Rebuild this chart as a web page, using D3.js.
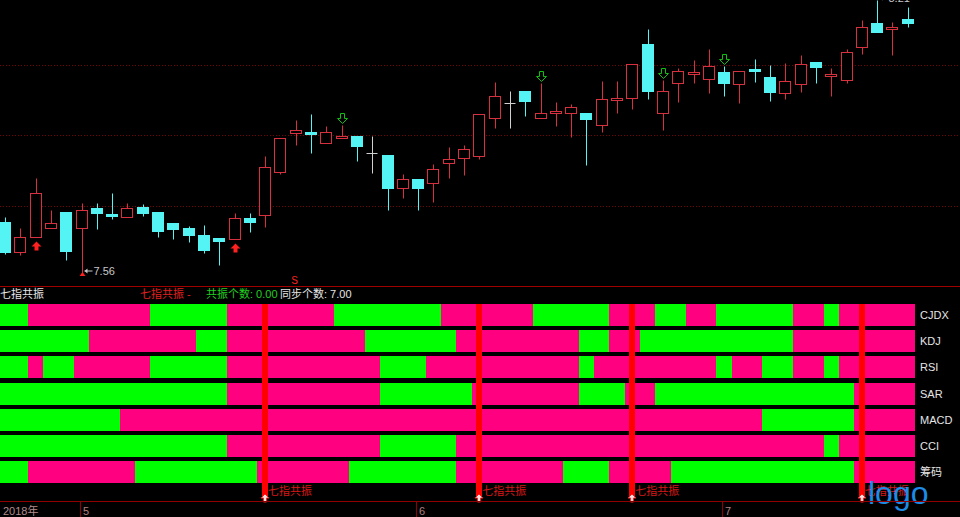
<!DOCTYPE html>
<html>
<head>
<meta charset="utf-8">
<script src="https://cdn.jsdelivr.net/npm/d3@7"></script>
<style>
body { margin: 0; background: #000; overflow: hidden; }
text { font-family: "Liberation Sans", "Noto Sans CJK SC", sans-serif; }
</style>
</head>
<body>
<div id="svg"></div>
<script>
var w = 960;
var h = 517;

// daily OHLC, 60 sessions
var open = [7.681,7.610,7.646,7.667,7.705,7.667,7.715,7.700,7.693,7.717,
  7.705,7.679,7.667,7.650,7.643,7.641,7.691,7.698,7.800,7.893,
  7.896,7.870,7.881,7.886,7.846,7.841,7.762,7.784,7.774,7.822,
  7.834,7.839,7.929,7.965,7.993,7.929,7.941,7.941,7.941,7.912,
  7.972,7.977,8.105,7.941,8.012,8.034,8.022,8.039,8.010,8.046,
  8.027,7.989,8.010,8.062,8.029,8.019,8.098,8.155,8.141,8.165];
var high = [7.693,7.667,7.786,7.710,7.705,7.727,7.727,7.750,7.727,7.724,
  7.705,7.679,7.672,7.674,7.643,7.703,7.703,7.839,7.881,7.924,
  7.939,7.910,7.912,7.886,7.886,7.841,7.796,7.784,7.820,7.860,
  7.865,7.939,8.015,7.993,7.993,8.012,7.967,7.962,7.941,8.017,
  8.017,8.058,8.141,8.019,8.048,8.067,8.093,8.053,8.041,8.070,
  8.055,8.060,8.079,8.062,8.048,8.093,8.162,8.210,8.158,8.193];
var low = [7.605,7.603,7.646,7.667,7.591,7.560,7.665,7.689,7.693,7.696,
  7.646,7.641,7.634,7.608,7.579,7.641,7.658,7.670,7.796,7.865,
  7.846,7.870,7.881,7.827,7.798,7.710,7.739,7.710,7.729,7.786,
  7.793,7.831,7.905,7.905,7.934,7.929,7.910,7.884,7.817,7.896,
  7.941,7.950,7.974,7.900,7.967,8.012,7.989,7.981,7.965,8.015,
  7.970,7.974,7.991,8.012,7.981,8.012,8.081,8.134,8.079,8.146];
var close = [7.610,7.646,7.750,7.679,7.612,7.710,7.703,7.696,7.715,7.703,
  7.660,7.665,7.650,7.615,7.636,7.691,7.681,7.812,7.881,7.900,
  7.891,7.896,7.886,7.862,7.846,7.762,7.784,7.762,7.808,7.831,
  7.855,7.939,7.981,7.965,7.970,7.941,7.946,7.955,7.927,7.974,
  7.977,8.058,7.993,7.993,8.041,8.039,8.053,8.012,8.041,8.041,
  7.991,8.017,8.058,8.050,8.034,8.086,8.146,8.134,8.146,8.155];

var gridPrices = [8.055, 7.888, 7.719];
var buyIdx = [2, 15];
var sellIdx = [22, 35, 43, 47];
var sMarkIdx = 19;

var monthIdx = [5, 27, 47];
var monthLabels = ['5', '6', '7'];
var yearLabel = '2018年';

// indicator states per session: 1 = pink, 0 = green
var rows = ['CJDX', 'KDJ', 'RSI', 'SAR', 'MACD', 'CCI', '筹码'];
var cjdx   = '00 11111111 00000 1111111 0000000 111111 00000 111 00 11 00000 11 0 11111';
var kdj    = '000000 1111111 00 111111111 000000 11111111 00 11 0000000000 11111111';
var rsi    = '00 1 00 11111 00000 1111111111 000 1111111111 0 11111111 0 11 00 11 0 11111';
var sar    = '000000000000000 1111111111 000000 1111111 000 11 0000000000000 1111';
var macd   = '00000000 111111111111111111111111111111111111111111 000000 1111';
var cci    = '000000000000000 1111111111 00000 111111111111111111111111 0 11111';
var chouma = '00 1111111 00000000 111111 0000000 1111111 000 1111 000000000000 1111';

var headTitle = '七指共振';
var headSignal = '七指共振 -';
var headCount = '共振个数: 0.00';
var headSync = '同步个数: 7.00';
var signalLabel = '七指共振';

var states = [cjdx, kdj, rsi, sar, macd, cci, chouma].map(s => s.replace(/ /g, '').split('').map(Number));
var n = open.length;

var upColor = '#d8303e', downColor = '#54f4f4', flatColor = '#d0d0d0';
var pink = '#ff0080', green = '#00ff00';

const svg = d3.select('#svg')
  .append('svg')
  .attr('width', w)
  .attr('height', h)
  .style('display', 'block')
  .style('background', '#000');

var x = d3.scaleBand().domain(d3.range(n)).range([-2.65, 915.35]);
var cx = i => x(i) + x.bandwidth() / 2;
var px = i => Math.round(cx(i)) + 0.5;
var y = d3.scaleLinear().domain([7.56, 8.21]).range([273, 0]);
var sy = v => Math.round(y(v)) + 0.5;

// price grid
svg.selectAll('.grid')
  .data(gridPrices)
  .enter().append('line')
  .attr('x1', 0).attr('x2', w)
  .attr('y1', sy).attr('y2', sy)
  .attr('stroke', '#7a0000')
  .attr('stroke-dasharray', '1,2');

var col = i => close[i] > open[i] ? upColor : (close[i] < open[i] ? downColor : flatColor);

var candles = svg.append('g').attr('class', 'candles');
candles.selectAll('line')
  .data(d3.range(n))
  .enter().append('line')
  .attr('x1', px).attr('x2', px)
  .attr('y1', i => sy(high[i])).attr('y2', i => sy(low[i]))
  .attr('stroke', col);

candles.selectAll('rect')
  .data(d3.range(n).filter(i => close[i] !== open[i]))
  .enter().append('rect')
  .attr('x', i => px(i) - 6)
  .attr('width', 11)
  .attr('y', i => sy(Math.max(open[i], close[i])))
  .attr('height', i => Math.max(1, sy(Math.min(open[i], close[i])) - sy(Math.max(open[i], close[i]))))
  .attr('fill', i => close[i] > open[i] ? '#000' : downColor)
  .attr('stroke', col);

candles.selectAll('.flat')
  .data(d3.range(n).filter(i => close[i] === open[i]))
  .enter().append('line')
  .attr('class', 'flat')
  .attr('x1', i => px(i) - 6).attr('x2', i => px(i) + 5)
  .attr('y1', i => sy(open[i])).attr('y2', i => sy(open[i]))
  .attr('stroke', flatColor);

// buy / sell arrows
svg.selectAll('.buy')
  .data(buyIdx)
  .enter().append('path')
  .attr('d', 'M0,0L5,5L2,5L2,9L-2,9L-2,5L-5,5Z')
  .attr('transform', i => `translate(${px(i)},${sy(low[i]) + 4})`)
  .attr('fill', '#ff2020');

svg.selectAll('.sell')
  .data(sellIdx)
  .enter().append('path')
  .attr('d', 'M-2,0L2,0L2,5L5,5L0,10L-5,5L-2,5Z')
  .attr('transform', i => `translate(${px(i)},${sy(high[i]) - 12})`)
  .attr('fill', 'none')
  .attr('stroke', '#10c010');

// extreme labels
var iLow = d3.minIndex(low), iHigh = d3.maxIndex(high);
[[iLow, low[iLow]], [iHigh, high[iHigh]]].forEach(function (d) {
  var yy = y(d[1]) - 2;
  svg.append('line')
    .attr('x1', px(d[0]) + 2).attr('x2', px(d[0]) + 10)
    .attr('y1', yy).attr('y2', yy)
    .attr('stroke', '#c8c8c8');
  svg.append('path')
    .attr('d', `M${px(d[0]) + 2},${yy}l3,-2.5v5z`)
    .attr('fill', '#c8c8c8');
  svg.append('text')
    .attr('x', px(d[0]) + 11).attr('y', yy)
    .attr('dy', '0.36em')
    .attr('font-size', 11)
    .attr('fill', '#c8c8c8')
    .text(d3.format('.2f')(d[1]));
});
svg.append('path')
  .attr('d', 'M-3,3L0,-1L3,3Z')
  .attr('transform', `translate(${px(iLow)},${y(low[iLow])})`)
  .attr('fill', '#ff2020');

svg.append('text')
  .attr('x', cx(sMarkIdx) - 1).attr('y', 284)
  .attr('text-anchor', 'middle')
  .attr('font-size', 10)
  .attr('fill', '#ff2020')
  .text('S');

// panel separator
svg.append('line')
  .attr('x1', 0).attr('x2', w)
  .attr('y1', 286.5).attr('y2', 286.5)
  .attr('stroke', '#a00000');

// header
svg.append('text').attr('x', 0).attr('y', 298).attr('font-size', 11).attr('fill', '#e6e6e6').text(headTitle);
svg.append('text').attr('x', 140).attr('y', 298).attr('font-size', 11).attr('fill', '#e02020').text(headSignal);
svg.append('text').attr('x', 206).attr('y', 298).attr('font-size', 11).attr('fill', '#20d020').text(headCount);
svg.append('text').attr('x', 280).attr('y', 298).attr('font-size', 11).attr('fill', '#e6e6e6').text(headSync);

// indicator bars
var ry = d3.scaleBand().domain(rows).range([304, 483.2]).paddingInner(0.16);

rows.forEach(function (r, k) {
  var s = states[k], runs = [], start = 0;
  for (var i = 1; i <= n; i++) {
    if (i === n || s[i] !== s[start]) {
      runs.push({ a: start, b: i - 1, v: s[start] });
      start = i;
    }
  }
  svg.append('g').selectAll('rect')
    .data(runs)
    .enter().append('rect')
    .attr('x', d => Math.max(0, Math.round(x(d.a))))
    .attr('width', d => Math.round(x(d.b) + x.bandwidth()) - Math.max(0, Math.round(x(d.a))))
    .attr('y', ry(r))
    .attr('height', ry.bandwidth())
    .attr('fill', d => d.v ? pink : green)
    .attr('shape-rendering', 'crispEdges');

  svg.append('text')
    .attr('x', 920)
    .attr('y', ry(r) + ry.bandwidth() / 2)
    .attr('dy', '0.36em')
    .attr('font-size', 11)
    .attr('fill', '#e6e6e6')
    .text(r);
});

// resonance signals: first session with all indicators pink
var allPink = d3.range(n).map(i => states.every(s => s[i] === 1));
var signals = d3.range(n).filter(i => allPink[i] && (i === 0 || !allPink[i - 1]));

svg.selectAll('.sig')
  .data(signals)
  .enter().append('rect')
  .attr('x', i => Math.round(cx(i)) - 3)
  .attr('width', 6)
  .attr('y', 304)
  .attr('height', 193)
  .attr('fill', '#ff0000');

svg.selectAll('.siglabel')
  .data(signals)
  .enter().append('text')
  .attr('x', i => cx(i) + 3)
  .attr('y', 495)
  .attr('font-size', 11)
  .attr('fill', '#d81818')
  .text(signalLabel);

svg.selectAll('.sigarrow')
  .data(signals)
  .enter().append('path')
  .attr('d', 'M0,0L4,4L1.5,4L1.5,8L-1.5,8L-1.5,4L-4,4Z')
  .attr('transform', i => `translate(${Math.round(cx(i))},494)`)
  .attr('fill', '#ffe0e0')
  .attr('stroke', '#ff2020');

// logo
svg.append('text')
  .attr('x', 868).attr('y', 504)
  .attr('font-family', '"Noto Sans", sans-serif')
  .attr('font-size', 32)
  .attr('fill', '#1c8ce6')
  .text('logo');

// date axis
svg.append('line')
  .attr('x1', 0).attr('x2', w)
  .attr('y1', 501.5).attr('y2', 501.5)
  .attr('stroke', '#900000');

svg.selectAll('.mtick')
  .data(monthIdx)
  .enter().append('line')
  .attr('x1', i => Math.round(cx(i)) - 1.5).attr('x2', i => Math.round(cx(i)) - 1.5)
  .attr('y1', 502).attr('y2', h)
  .attr('stroke', '#900000');

svg.selectAll('.mlabel')
  .data(monthIdx)
  .enter().append('text')
  .attr('x', i => Math.round(cx(i)) + 1)
  .attr('y', 515)
  .attr('font-size', 11)
  .attr('fill', '#b08080')
  .text((i, k) => monthLabels[k]);

svg.append('text')
  .attr('x', 3).attr('y', 515)
  .attr('font-size', 11)
  .attr('fill', '#b08c8c')
  .text(yearLabel);
</script>
</body>
</html>
